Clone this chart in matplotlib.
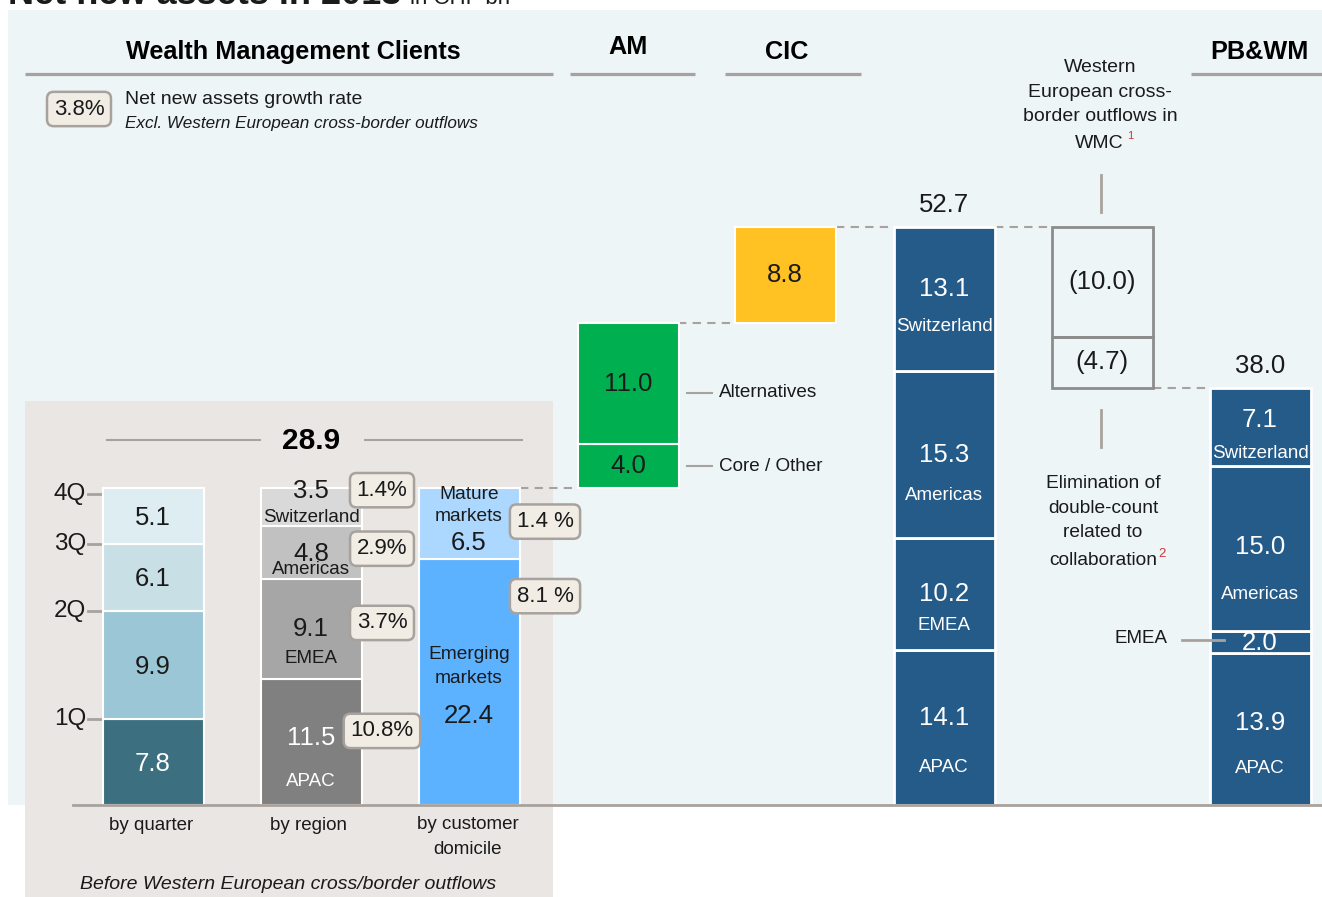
import matplotlib
matplotlib.use('Agg')
import matplotlib.pyplot as plt
from matplotlib.patches import Rectangle
import numpy as np

plt.rcParams['font.family'] = ['Liberation Sans', 'DejaVu Sans']

# ---------------- data (CHF bn) ----------------
quarters = ['1Q', '2Q', '3Q', '4Q']
quarter_values = [7.8, 9.9, 6.1, 5.1]

regions = ['APAC', 'EMEA', 'Americas', 'Switzerland']
wmc_region_values = [11.5, 9.1, 4.8, 3.5]
wmc_region_growth = ['10.8%', '3.7%', '2.9%', '1.4%']

domiciles = ['Emerging\nmarkets', 'Mature\nmarkets']
domicile_values = [22.4, 6.5]
domicile_growth = ['8.1 %', '1.4 %']

am_labels = ['Core / Other', 'Alternatives']
am_values = [4.0, 11.0]
cic_value = 8.8

combined_region_values = [14.1, 10.2, 15.3, 13.1]
outflow_values = [10.0, 4.7]
outflow_labels = ['(10.0)', '(4.7)']
pbwm_region_values = [13.9, 2.0, 15.0, 7.1]

legend_rate = '3.8%'

# ---------------- layout ----------------
W, H = 1322, 897
S = 10.97        # pixels per CHF bn
BASE = 805       # pixel row of the zero line
BW = 101         # bar width (px)
x_quarter, x_region, x_dom = 153, 311, 469
x_am, x_cic, x_tot, x_out, x_pb = 628, 785, 944, 1102, 1260

GRAY = '#a8a29e'
DARK = '#1a1a1a'
BOXFC = '#f1ede4'

fig = plt.figure(figsize=(W / 100, H / 100), dpi=100)
ax = fig.add_axes([0, 0, 1, 1])
ax.set_xlim(0, W)
ax.set_ylim((BASE - H) / S, BASE / S)
ax.axis('off')


def py(ypix):
    """pixel row -> data y"""
    return (BASE - ypix) / S


def dpx(p):
    """pixel distance -> data distance"""
    return p / S


# backgrounds
ax.add_patch(Rectangle((8, 0), W - 8, py(10), color='#edf5f7', zorder=0, lw=0))
ax.add_patch(Rectangle((25, py(897)), 553 - 25, py(401) - py(897),
                       color='#eae6e3', zorder=0.5, lw=0))

# title (cut off at the top of the picture, as in the source)
fig.text(8 / W, 1 - 4 / H, 'Net new assets in 2013', fontsize=26, fontweight='bold',
         color=DARK, va='baseline', ha='left')
fig.text(410 / W, 1 - 4 / H, 'in CHF bn', fontsize=16, color=DARK, va='baseline', ha='left')


def txt(x, y, s, size=13.5, color=DARK, **kw):
    kw.setdefault('ha', 'center')
    kw.setdefault('va', 'center')
    return ax.text(x, y, s, fontsize=size, color=color, zorder=6, **kw)


def pctbox(x, y, s):
    ax.text(x, y, s, fontsize=16, color=DARK, ha='center', va='center', zorder=7,
            bbox=dict(boxstyle='round,pad=0.3,rounding_size=0.3', fc=BOXFC,
                      ec=GRAY, lw=1.8))


def stack(x, values, colors, edge='white', lw=1.5):
    bottoms = np.concatenate([[0], np.cumsum(values)[:-1]])
    ax.bar([x] * len(values), values, bottom=bottoms, width=BW, color=colors,
           edgecolor=edge, linewidth=lw, zorder=3)
    return bottoms, bottoms + np.array(values) / 2.0


# ---------------- headers ----------------
for cx, cy, label, x0, x1 in [(293, 52, 'Wealth Management Clients', 25, 553),
                              (628, 47, 'AM', 570, 695),
                              (787, 52, 'CIC', 725, 861),
                              (1259, 52, 'PB&WM', 1191, 1322)]:
    txt(cx, py(cy), label, size=18.2, fontweight='bold', color='black')
    ax.plot([x0, x1], [py(74), py(74)], color=GRAY, lw=2.3, zorder=2,
            solid_capstyle='butt')

# legend
pctbox(79, py(109), legend_rate)
txt(125, py(99), 'Net new assets growth rate', size=14, ha='left')
txt(125, py(123), 'Excl. Western European cross-border outflows', size=12.3,
    ha='left', style='italic')

# ---------------- WMC panel ----------------
wmc_total = sum(quarter_values)
txt(311, py(441), f'{wmc_total:.1f}', size=21.5, fontweight='bold', color='black')
ax.plot([107, 260], [py(440)] * 2, color=GRAY, lw=1.5, zorder=2)
ax.plot([365, 522], [py(440)] * 2, color=GRAY, lw=1.5, zorder=2)

# by quarter
qcolors = ['#3c7080', '#9bc6d6', '#c9dfe6', '#deedf2']
qb, qc = stack(x_quarter, quarter_values, qcolors)
qtops = np.cumsum(quarter_values)
tick_off = [0, 0, 0, -6]
for i, v in enumerate(quarter_values):
    txt(x_quarter, qc[i] - dpx(2), f'{v:.1f}', size=18.5, color='white' if i == 0 else DARK)
for q, top, off in zip(quarters, qtops, tick_off):
    yt = top + dpx(off)
    ax.plot([88, 102], [yt, yt], color=GRAY, lw=2, zorder=2)
    txt(86, yt, q, size=17.5, ha='right')

# by region
rcolors = ['#808080', '#a6a6a6', '#c1c1c1', '#d9d9d9']
rb, rc = stack(x_region, wmc_region_values, rcolors)
num_off = [4, 0, -1, 16]      # px above segment centre
lab_off = [-40, -30, -17, -10]
box_off = [11, 6, 4, 17]
for i, v in enumerate(wmc_region_values):
    col = 'white' if i == 0 else DARK
    txt(x_region, rc[i] + dpx(num_off[i]), f'{v:.1f}', size=18.5, color=col)
    txt(x_region, rc[i] + dpx(lab_off[i]), regions[i], size=13.5, color=col)
    pctbox(382, rc[i] + dpx(box_off[i]), wmc_region_growth[i])

# by customer domicile
dcolors = ['#5cb2ff', '#acd8ff']
db, dc = stack(x_dom, domicile_values, dcolors)
dnum_off = [-34, -19]
dlab_off = [16, 18]
dbox_off = [86, 2]
dspacing = [1.55, 1.42]
for i, v in enumerate(domicile_values):
    txt(x_dom, dc[i] + dpx(dnum_off[i]), f'{v:.1f}', size=18.5)
    txt(x_dom, dc[i] + dpx(dlab_off[i]), domiciles[i], size=13.8, linespacing=dspacing[i])
    pctbox(545, dc[i] + dpx(dbox_off[i]), domicile_growth[i])

# axis captions
txt(151, py(825), 'by quarter', size=13.5)
txt(309, py(825), 'by region', size=13.5)
txt(468, py(837), 'by customer\ndomicile', size=13.5, linespacing=1.55)
txt(288, py(884), 'Before Western European cross/border outflows', size=14, style='italic')

# ---------------- waterfall ----------------
am_bottom = wmc_total
am_b = am_bottom + np.concatenate([[0], np.cumsum(am_values)[:-1]])
ax.bar([x_am] * 2, am_values, bottom=am_b, width=BW, color='#00b050',
       edgecolor='white', linewidth=1.5, zorder=3)
for i, v in enumerate(am_values):
    c = am_b[i] + v / 2
    txt(x_am, c, f'{v:.1f}', size=18.5)
    yl = c - dpx(9) if i == 1 else c
    ax.plot([687, 712], [yl, yl], color=GRAY, lw=1.5, zorder=2)
    txt(719, yl, am_labels[i], size=13.6, ha='left')

cic_bottom = am_bottom + sum(am_values)
ax.bar([x_cic], [cic_value], bottom=[cic_bottom], width=BW, color='#ffc222',
       edgecolor='white', linewidth=1.5, zorder=3)
txt(x_cic, cic_bottom + cic_value / 2, f'{cic_value:.1f}', size=18.5)

combined_total = sum(combined_region_values)
tb, tc = stack(x_tot, combined_region_values, ['#255b88'] * 4, lw=2)
txt(x_tot, combined_total + dpx(22), f'{combined_total:.1f}', size=18.5)
t_num = [10, 0, 0, 10]
t_lab = [-40, -31, -41, -28]
for i, v in enumerate(combined_region_values):
    txt(x_tot, tc[i] + dpx(t_num[i]), f'{v:.1f}', size=18.5, color='white')
    txt(x_tot, tc[i] + dpx(t_lab[i]), regions[i], size=13.5, color='white')

# outflows (negative steps)
out_b = combined_total - np.cumsum(outflow_values)
ax.bar([x_out] * 2, outflow_values, bottom=out_b, width=BW, facecolor='none',
       edgecolor='#8c8c8c', linewidth=2, zorder=3)
for i, v in enumerate(outflow_values):
    txt(x_out, out_b[i] + v / 2, outflow_labels[i], size=18.5)

txt(1100, py(92), 'Western\nEuropean cross-\nborder outflows in', size=14,
    linespacing=1.58)
txt(1099, py(143), 'WMC', size=14)
txt(1130, py(136), '1', size=8, color='#d4343c')
ax.plot([1101, 1101], [py(175), py(212)], color=GRAY, lw=2, zorder=2)
ax.plot([1101, 1101], [py(410), py(447)], color=GRAY, lw=2, zorder=2)
txt(1103, py(508), 'Elimination of\ndouble-count\nrelated to', size=13.8,
    linespacing=1.58)
txt(1103, py(560), 'collaboration', size=13.8)
txt(1162, py(554), '2', size=9.5, color='#d4343c')

# PB&WM
pb_total = sum(pbwm_region_values)
pb, pc = stack(x_pb, pbwm_region_values, ['#255b88'] * 4, lw=2)
txt(x_pb, pb_total + dpx(22), f'{pb_total:.1f}', size=18.5)
p_num = [6, -1, 1, 7]
p_lab = [-40, None, -46, -26]
for i, v in enumerate(pbwm_region_values):
    txt(x_pb, pc[i] + dpx(p_num[i]), f'{v:.1f}', size=18.5, color='white')
    if p_lab[i] is not None:
        txt(x_pb, pc[i] + dpx(p_lab[i]), regions[i], size=13.5, color='white')
ax.plot([1182, 1224], [pc[1] + dpx(2)] * 2, color=GRAY, lw=2, zorder=4)
txt(1168, pc[1] + dpx(3), regions[1], size=13.5, ha='right')

# dashed connectors
conn = [(520, 578, wmc_total), (678, 735, cic_bottom), (836, 893, combined_total),
        (995, 1051, combined_total), (1153, 1210, pb_total)]
for x0, x1, yv in conn:
    ax.plot([x0, x1], [yv, yv], color=GRAY, lw=1.5, ls=(0, (4, 3)), zorder=2)

# baseline
ax.plot([73, W], [0, 0], color=GRAY, lw=2, zorder=4)

fig.savefig('out.png', dpi=100, facecolor='white')
